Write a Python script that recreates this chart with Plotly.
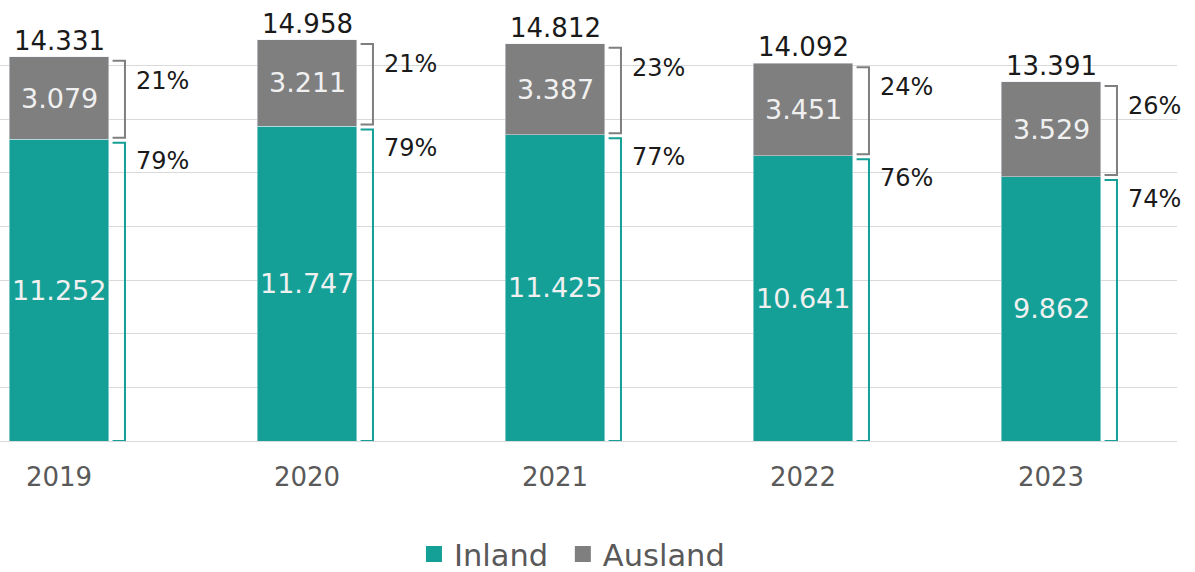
import plotly.graph_objects as go

years = ["2019", "2020", "2021", "2022", "2023"]
inland = [11252, 11747, 11425, 10641, 9862]
ausland = [3079, 3211, 3387, 3451, 3529]

TEAL = "#14A096"
GRAY = "#7F7F7F"
FONT = "DejaVu Sans"

def de(n):
    return f"{n:,}".replace(",", ".")

xs = list(range(len(years)))
totals = [a + b for a, b in zip(inland, ausland)]

fig = go.Figure()
fig.add_trace(go.Bar(x=xs, y=inland, marker_color=TEAL, width=0.4, showlegend=False, name="Inland"))
fig.add_trace(go.Bar(x=xs, y=ausland, marker_color=GRAY, width=0.4, showlegend=False, name="Ausland"))
# legend entries
fig.add_trace(go.Scatter(x=[None], y=[None], mode="markers", name="Inland\u00a0",
                         marker=dict(symbol="square", size=17, color=TEAL)))
fig.add_trace(go.Scatter(x=[None], y=[None], mode="markers", name="Ausland",
                         marker=dict(symbol="square", size=17, color=GRAY)))

px = 16000 / 429.0  # data units per pixel
ann = []
shapes = []
for i, (a, b, t) in enumerate(zip(inland, ausland, totals)):
    ann.append(dict(x=i, y=t, text=de(t), showarrow=False, yanchor="bottom", xanchor="center",
                    font=dict(family=FONT, size=26, color="#1a1a1a"), yshift=-1))
    ann.append(dict(x=i, y=a / 2, text=de(a), showarrow=False,
                    font=dict(family=FONT, size=27, color="#F0F0F0")))
    ann.append(dict(x=i, y=a + b / 2, text=de(b), showarrow=False,
                    font=dict(family=FONT, size=27, color="#F0F0F0")))
    pa = round(100 * b / t)
    pi = round(100 * a / t)
    ann.append(dict(x=i + 0.302, y=t, text=f"{pa}%", showarrow=False, xanchor="left",
                    yanchor="middle", yshift=-24, font=dict(family=FONT, size=24, color="#1a1a1a")))
    ann.append(dict(x=i + 0.302, y=a, text=f"{pi}%", showarrow=False, xanchor="left",
                    yanchor="middle", yshift=-22, font=dict(family=FONT, size=24, color="#1a1a1a")))
    x0 = i + 0.216
    x1 = i + 0.266
    gt, gb = t - 4 * px, a + 1.5 * px
    shapes.append(dict(type="path", xref="x", yref="y",
                       path=f"M {x0},{gt} L {x1},{gt} L {x1},{gb} L {x0},{gb}",
                       line=dict(color=GRAY, width=2)))
    tt, tb = a - 3.5 * px, 0
    shapes.append(dict(type="path", xref="x", yref="y",
                       path=f"M {x0},{tt} L {x1},{tt} L {x1},{tb} L {x0},{tb}",
                       line=dict(color=TEAL, width=2)))

fig.update_layout(
    barmode="stack",
    width=1195, height=572,
    margin=dict(l=0, r=18, t=12, b=131, pad=0, autoexpand=False),
    paper_bgcolor="white", plot_bgcolor="white",
    annotations=ann, shapes=shapes,
    separators=",.",
    legend=dict(orientation="h", x=0.3517, xanchor="left", y=-0.264, yanchor="middle",
                font=dict(family=FONT, size=30.5, color="#595959"), itemsizing="trace",
                traceorder="normal", itemwidth=30),
    xaxis=dict(tickmode="array", tickvals=xs, ticktext=years, range=[-0.2379, 4.508],
               showgrid=False, zeroline=False, showline=False, automargin=False,
               tickfont=dict(family=FONT, size=26, color="#595959"), ticklabelstandoff=18),
    yaxis=dict(range=[0, 16000], dtick=2000, showticklabels=False, gridcolor="#D9D9D9",
               gridwidth=1, zeroline=True, zerolinecolor="#D9D9D9", zerolinewidth=1,
               automargin=False),
)
fig.write_html("out.html", config={"displayModeBar": False},
               post_script="document.body.style.margin='0';document.body.style.overflow='hidden';")
